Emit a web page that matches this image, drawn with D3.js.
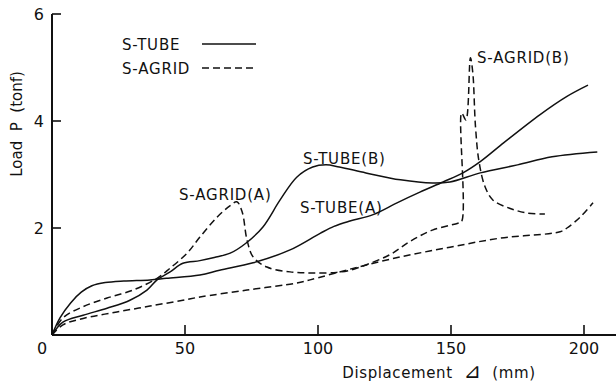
<!DOCTYPE html>
<html>
<head>
<meta charset="utf-8">
<script src="https://cdn.jsdelivr.net/npm/d3@7"></script>
<style>
  body { margin: 0; background: #fff; }
  text { font-family: "DejaVu Sans", sans-serif; fill: #111; }
</style>
</head>
<body>
<div id="chart"></div>
<script>
// load-displacement curves: [displacement (mm), load (tonf)]
const tubeA = [[0,0],[3,0.32],[7,0.6],[11,0.8],[15,0.92],[20,0.98],[27,1.01],[36.8,1.03],[43,1.06],
  [55.6,1.12],[63,1.21],[75.6,1.35],[89.5,1.59],[100.8,1.9],[106,2.03],[112,2.13],[120.7,2.25],[129.7,2.47],
  [138.3,2.67],[147,2.86],[154.5,3.03],[161,3.24],[170,3.6],[183.5,4.12],[193.6,4.46],[201.5,4.67]];

const tubeB = [[0,0],[4.1,0.24],[11.7,0.37],[20.7,0.5],[29.3,0.65],[35.7,0.84],[39.5,1.03],[44.4,1.18],
  [49.2,1.34],[55.6,1.39],[61,1.45],[67,1.53],[73,1.72],[79.3,2.02],[85.7,2.52],[92,2.95],[98,3.14],
  [103,3.18],[108,3.14],[118,3.03],[131,2.9],[143,2.84],[149.6,2.86],[161,3.03],[175,3.18],[188,3.33],[205,3.42]];

const agridA = [[0,0],[4.1,0.32],[11.7,0.53],[20.7,0.69],[30.5,0.84],[39.5,1.06],[44.4,1.25],[50.8,1.53],
  [55.6,1.83],[62,2.2],[67,2.42],[69.5,2.49],[71.5,2.3],[73.3,1.78],[75.6,1.46],[80.8,1.27],[89.5,1.18],
  [98,1.16],[107,1.17],[112,1.21],[118,1.31],[127,1.5],[134.6,1.75],[143,1.96],[152.6,2.09],[154,2.12],
  [154,4.15],[155.6,4.02],[157.3,5.18],[158.2,4.9],[159.2,3.9],[160.5,3.25],[162.8,2.77],[165.8,2.52],
  [172,2.37],[178.6,2.28],[185.3,2.26]];

const agridB = [[0,0],[4.1,0.19],[11.7,0.31],[24.4,0.43],[36.8,0.54],[49.2,0.65],[55.6,0.71],[73.3,0.84],
  [92,0.97],[97,1.03],[112,1.23],[131,1.46],[149.6,1.64],[168.4,1.81],[191,1.93],[193.6,2.0],[198.5,2.2],[203.4,2.47]];

const xTicks = [50, 100, 150, 200];
const yTicks = [2, 4, 6];

const width = 616, height = 389;

const svg = d3.select("#chart").append("svg")
  .attr("width", width)
  .attr("height", height);

const x = d3.scaleLinear().domain([0, 200]).range([52, 584]);
const y = d3.scaleLinear().domain([0, 6]).range([335, 14]);

// axes
svg.append("line")
  .attr("x1", x(0)).attr("x2", width).attr("y1", y(0)).attr("y2", y(0))
  .attr("stroke", "#111").attr("stroke-width", 2);
svg.append("line")
  .attr("x1", x(0)).attr("x2", x(0)).attr("y1", y(0)).attr("y2", y(6))
  .attr("stroke", "#111").attr("stroke-width", 2);

svg.selectAll(".xt").data(xTicks).join("line")
  .attr("x1", d => x(d)).attr("x2", d => x(d))
  .attr("y1", y(0)).attr("y2", y(0) - 10)
  .attr("stroke", "#111").attr("stroke-width", 1.6);
svg.selectAll(".yt").data(yTicks).join("line")
  .attr("x1", x(0)).attr("x2", x(0) + 9)
  .attr("y1", d => y(d)).attr("y2", d => y(d))
  .attr("stroke", "#111").attr("stroke-width", 1.6);

svg.selectAll(".xl").data(xTicks).join("text")
  .attr("x", d => x(d)).attr("y", 354)
  .attr("text-anchor", "middle").attr("font-size", 16)
  .text(d => d);
svg.append("text").attr("x", 42).attr("y", 354)
  .attr("text-anchor", "middle").attr("font-size", 16).text("0");
svg.selectAll(".yl").data(yTicks).join("text")
  .attr("x", 44).attr("y", d => y(d) + 6)
  .attr("text-anchor", "end").attr("font-size", 16)
  .text(d => d);

// axis titles
svg.append("text")
  .attr("transform", "translate(22,124) rotate(-90)")
  .attr("text-anchor", "middle").attr("font-size", 15)
  .style("white-space", "pre")
  .text("Load  P  (tonf)");

const xt = svg.append("text")
  .attr("x", 439).attr("y", 378)
  .attr("text-anchor", "middle").attr("font-size", 15)
  .attr("letter-spacing", 0.6)
  .style("white-space", "pre");
xt.append("tspan").text("Displacement  ");
xt.append("tspan").attr("font-size", 21).text("⊿");
xt.append("tspan").text("  (mm)");

// curves
const line = d3.line()
  .x(d => x(d[0])).y(d => y(d[1]))
  .curve(d3.curveCatmullRom.alpha(0.5));

const series = [
  { data: tubeA, dash: null },
  { data: tubeB, dash: null },
  { data: agridA, dash: "7,4" },
  { data: agridB, dash: "7,4" }
];

svg.selectAll(".curve").data(series).join("path")
  .attr("d", d => line(d.data))
  .attr("fill", "none")
  .attr("stroke", "#111")
  .attr("stroke-width", 1.5)
  .attr("stroke-dasharray", d => d.dash);

// curve labels
const labels = [
  { t: "S-AGRID(A)", x: 179, y: 200 },
  { t: "S-TUBE(B)", x: 303, y: 164 },
  { t: "S-TUBE(A)", x: 300, y: 213 },
  { t: "S-AGRID(B)", x: 477, y: 63 }
];
svg.selectAll(".lab").data(labels).join("text")
  .attr("x", d => d.x).attr("y", d => d.y)
  .attr("font-size", 15).attr("letter-spacing", 0.8)
  .text(d => d.t);

// legend
const legend = [
  { t: "S-TUBE", dash: null, y: 50 },
  { t: "S-AGRID", dash: "7,4", y: 74 }
];
const lg = svg.selectAll(".lg").data(legend).join("g");
lg.append("text")
  .attr("x", 122).attr("y", d => d.y)
  .attr("font-size", 15).attr("letter-spacing", 0.8)
  .text(d => d.t);
lg.append("line")
  .attr("x1", 202).attr("x2", 256)
  .attr("y1", d => d.y - 6).attr("y2", d => d.y - 6)
  .attr("stroke", "#111").attr("stroke-width", 1.5)
  .attr("stroke-dasharray", d => d.dash);
</script>
</body>
</html>
